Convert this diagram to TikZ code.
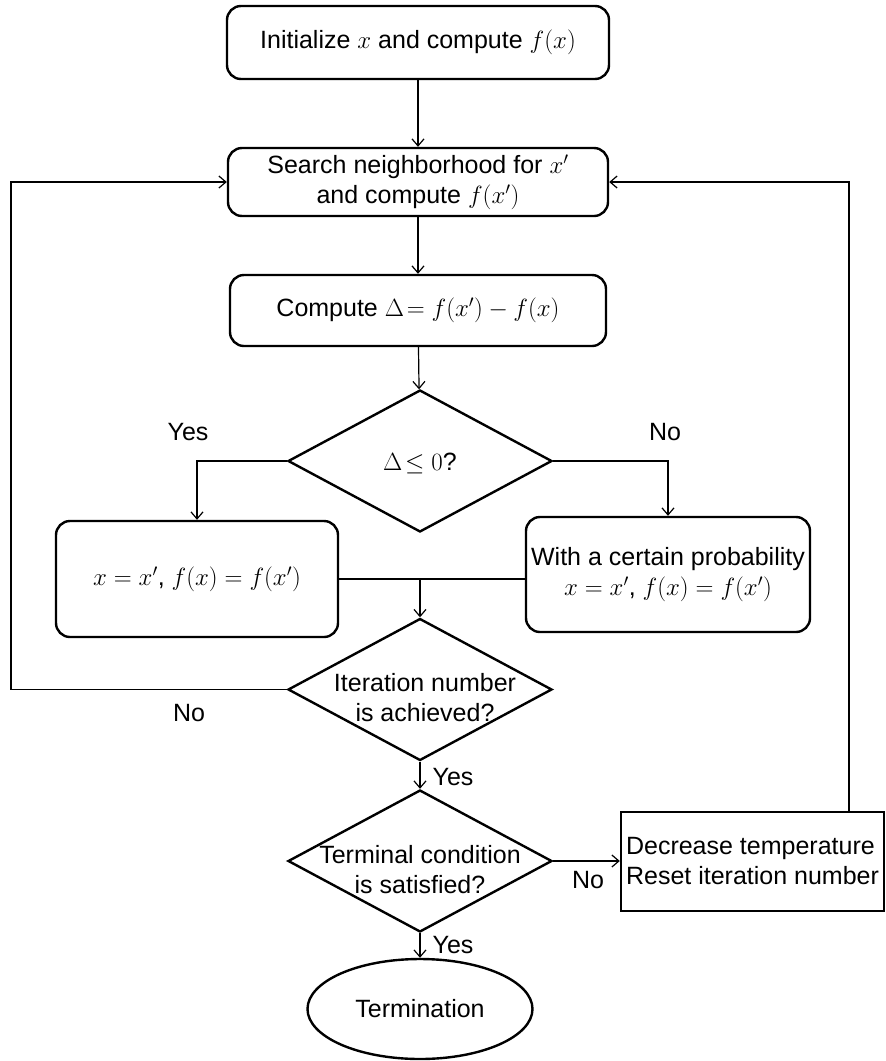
\documentclass[tikz,border=0pt]{standalone}
\usepackage{fontspec}
\setmainfont{Liberation Sans}
\usetikzlibrary{shapes.geometric,arrows.meta}
\begin{document}
\begin{tikzpicture}[x=1pt,y=-1pt,
  font=\fontsize{25}{30}\selectfont,
  box/.style={draw,line width=2.4pt,rounded corners=14pt,inner sep=0pt,align=center},
  rect/.style={draw,line width=2.4pt,inner sep=0pt,align=left},
  dia/.style={draw,diamond,line width=2.4pt,inner sep=0pt,minimum width=264pt,minimum height=142pt},
  term/.style={draw,ellipse,line width=2.4pt,inner sep=0pt,minimum width=225pt,minimum height=100pt},
  conn/.style={line width=1.2pt,-{Straight Barb[length=7pt,width=12pt]}},
  plain/.style={line width=1.2pt},
  lbl/.style={inner sep=0pt,align=center}
]
\useasboundingbox (0,0) rectangle (886,1061);

\node[box,minimum width=382pt,minimum height=73pt] (b1) at (418,42.5) {Initialize $x$ and compute $f(x)$};
\node[box,minimum width=380pt,minimum height=68pt] (b2) at (418,182) {Search neighborhood for $x'$\\and compute $f(x')$};
\node[box,minimum width=376pt,minimum height=71pt] (b3) at (418,310.5) {Compute $\Delta\!= f(x')-f(x)$};
\node[dia] (d1) at (420,461) {};
\node[lbl] (t1) at (420,463) {$\Delta\!\leq 0$?};
\node[box,minimum width=282pt,minimum height=116pt] (lb) at (197,579) {$x=x'$, $f(x)=f(x')$};
\node[box,minimum width=284pt,minimum height=115pt] (rb) at (668,574.5) {With a certain probability\\$x=x'$, $f(x)=f(x')$};
\node[dia] (d2) at (420,689.5) {};
\node[lbl] (t2) at (425,698) {Iteration number\\is achieved?};
\node[dia] (d3) at (420,861) {};
\node[lbl] (t3) at (420,870) {Terminal condition\\is satisfied?};
\node[rect,minimum width=263pt,minimum height=99pt] (dec) at (752.5,861.5) {Decrease temperature\\Reset iteration number};
\node[term] (tm) at (420,1009) {Termination};

\coordinate (L) at (11,0);
\coordinate (R) at (849,0);

\draw[conn] (b1) -- (b2);
\draw[conn] (b2) -- (b3);
\draw[conn] (b3) -- (d1);
\draw[conn] (d1.west) -| (lb.north);
\draw[conn] (d1.east) -| (rb.north);
\draw[plain] (lb.east) -- (lb.east -| rb.west);
\coordinate (m) at (lb.east -| d2.north);
\draw[conn] (m) -- (d2.north);
\draw[conn] (d2.west) -- (d2.west -| L) |- (b2.west);
\draw[conn] (d2.south) -- (d3.north);
\draw[conn] (d3.east) -- (d3.east -| dec.west);
\draw[conn] (dec.north -| R) |- (b2.east);
\draw[conn] (d3.south) -- (tm.north);

\node[lbl] (y1) at (188,432) {Yes};
\node[lbl] (n1) at (665,432) {No};
\node[lbl] (n2) at (189,713) {No};
\node[lbl] (y2) at (453,777) {Yes};
\node[lbl] (n3) at (588,880) {No};
\node[lbl] (y3) at (453,945) {Yes};
\end{tikzpicture}
\end{document}
